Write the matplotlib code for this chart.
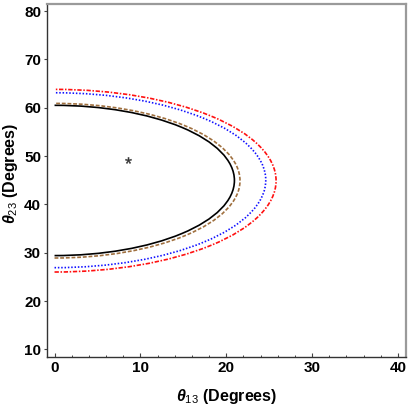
import matplotlib
matplotlib.use("Agg")
import matplotlib.pyplot as plt
from matplotlib.patches import Arc
from matplotlib.ticker import MultipleLocator

# contour boundaries (degrees)
# each curve: largest theta13 reached, theta23 at lower and upper edge (theta13 = 0)
curve_names = ["black", "brown", "blue", "red"]
theta13_max = [20.95, 21.6, 24.6, 25.8]
theta23_low = [29.4, 28.9, 26.9, 26.0]
theta23_high = [60.5, 60.9, 63.1, 63.8]

# best fit point
best_theta13 = [8.6]
best_theta23 = [49.2]

xticks = [0, 10, 20, 30, 40]
yticks = [10, 20, 30, 40, 50, 60, 70, 80]

plt.rcParams["mathtext.fontset"] = "custom"
plt.rcParams["mathtext.it"] = "Liberation Sans:italic:bold"
plt.rcParams["mathtext.rm"] = "Liberation Sans"
plt.rcParams["mathtext.bf"] = "Liberation Sans:bold"

colors = {"black": "black", "brown": "#a0703f", "blue": "#1010ff", "red": "#ff1010"}
styles = {"black": "-", "brown": (0, (2.3, 1.1)), "blue": (0, (0.9, 1.1)),
          "red": (0, (2.6, 1.0, 0.9, 1.0))}

fig = plt.figure(figsize=(4.09, 4.09), dpi=100)
ax = fig.add_axes([0.1157, 0.1264, 0.8763, 0.8636])

for name, xm, lo, hi in zip(curve_names, theta13_max, theta23_low, theta23_high):
    arc = Arc((0, (lo + hi) / 2), 2 * xm, hi - lo, theta1=-90, theta2=90,
              color=colors[name], linestyle=styles[name], lw=1.2)
    ax.add_patch(arc)

ax.plot(best_theta13, best_theta23, linestyle="none", marker="$*$",
        markersize=4.5, markeredgewidth=0.3, color="#333333")

ax.set_xlim(-0.84, 40.9)
ax.set_ylim(8.35, 81.45)
ax.set_xticks(xticks)
ax.set_yticks(yticks)
ax.xaxis.set_minor_locator(MultipleLocator(2))

ax.tick_params(axis="x", which="major", direction="in", length=3, width=0.8,
               color="#444444", pad=3)
ax.tick_params(axis="x", which="minor", direction="in", length=1.8, width=0.7,
               color="#444444")
ax.tick_params(axis="y", which="major", direction="out", length=2.5, width=0.8,
               color="#444444", pad=2)
for lab in ax.get_xticklabels() + ax.get_yticklabels():
    lab.set_fontfamily("Liberation Sans")
    lab.set_fontweight("bold")
    lab.set_fontsize(11)

for side in ["left", "bottom"]:
    ax.spines[side].set_color("#333333")
    ax.spines[side].set_linewidth(1.0)
for side in ["top", "right"]:
    ax.spines[side].set_color("#9a9a9a")
    ax.spines[side].set_linewidth(1.6)

ax.set_xlabel(r"$\theta_{13}$ (Degrees)", fontfamily="Liberation Sans",
              fontweight="bold", fontsize=11.5)
ax.set_ylabel(r"$\theta_{23}$ (Degrees)", fontfamily="Liberation Sans",
              fontweight="bold", fontsize=11.5)
ax.xaxis.set_label_coords(0.5, -0.112)
ax.yaxis.set_label_coords(-0.104, 0.52)
ax.xaxis.label.set_va("center")
ax.yaxis.label.set_va("center")

fig.savefig("out.png", dpi=100)
